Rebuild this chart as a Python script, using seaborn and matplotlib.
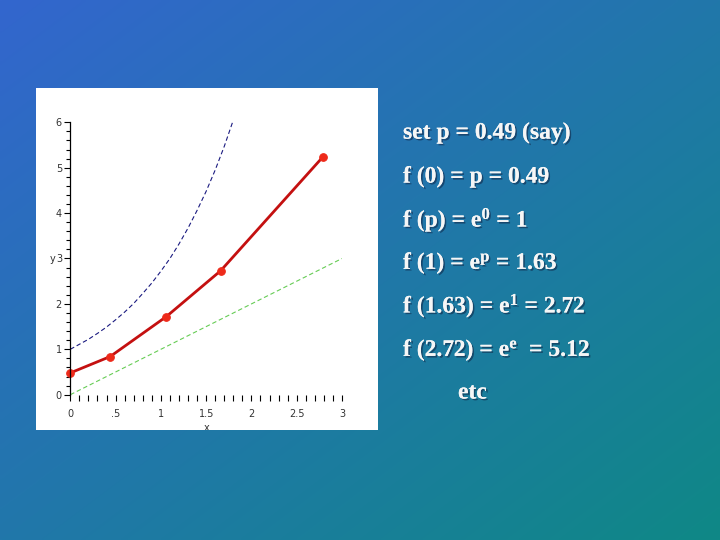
import numpy as np
import pandas as pd
import matplotlib
matplotlib.use("Agg")
import matplotlib.pyplot as plt
import matplotlib.patheffects as pe
from matplotlib.ticker import MultipleLocator, FixedLocator, FixedFormatter
import seaborn as sns

# ---- data ----
iter_x = [0.0, 0.44, 1.06, 1.66, 2.79]
iter_y = [0.48, 0.84, 1.72, 2.73, 5.24]

exp_x = [0.0, 0.1, 0.2, 0.3, 0.4, 0.5, 0.6, 0.7, 0.8, 0.9, 1.0,
         1.1, 1.2, 1.3, 1.4, 1.5, 1.6, 1.7, 1.8]
exp_y = [1.00, 1.11, 1.22, 1.35, 1.49, 1.65, 1.82, 2.01, 2.23, 2.46, 2.72,
         3.00, 3.32, 3.67, 4.06, 4.48, 4.95, 5.47, 6.05]

diag_x = [0.0, 3.0]
diag_y = [0.0, 3.0]

x_tick_vals = [0, 0.5, 1, 1.5, 2, 2.5, 3]
x_tick_labels = ["0", ".5", "1", "1.5", "2", "2.5", "3"]
y_tick_vals = [0, 1, 2, 3, 4, 5, 6]
y_tick_labels = ["0", "1", "2", "3", "4", "5", "6"]

text_lines = [
    r"set p = 0.49 (say)",
    r"f (0) = p = 0.49",
    r"f (p) = e$^{\mathrm{0}}$ = 1",
    r"f (1) = e$^{\mathrm{p}}$ = 1.63",
    r"f (1.63) = e$^{\mathrm{1}}$ = 2.72",
    r"f (2.72) = e$^{\mathrm{e}}$  = 5.12",
]
etc_text = "etc"

# ---- style ----
sns.set_theme(style="ticks")
plt.rcParams["font.family"] = ["DejaVu Sans"]
plt.rcParams["mathtext.fontset"] = "custom"
plt.rcParams["mathtext.rm"] = "Liberation Serif:bold"
plt.rcParams["mathtext.it"] = "Liberation Serif:bold"
plt.rcParams["mathtext.bf"] = "Liberation Serif:bold"

W, H = 720, 540
fig = plt.figure(figsize=(7.2, 5.4), dpi=100)

# background gradient (top-left blue -> bottom-right teal)
bg = fig.add_axes([0, 0, 1, 1], zorder=0)
n = 200
u = np.linspace(0, 1, n)
xx, yy = np.meshgrid(u, u)
t = (xx + yy) / 2.0
c0 = np.array([51, 102, 206]) / 255.0
c1 = np.array([15, 136, 134]) / 255.0
img = c0[None, None, :] * (1 - t[..., None]) + c1[None, None, :] * t[..., None]
bg.imshow(img, extent=[0, 1, 0, 1], aspect="auto", origin="upper", interpolation="bilinear")
bg.set_axis_off()

def fx(px):
    return px / W

def fy(py):
    return 1 - py / H

# white panel
panel = fig.add_axes([fx(36), fy(430), 342 / W, 342 / H], zorder=1)
panel.set_facecolor("white")
panel.set_xticks([])
panel.set_yticks([])
for s in panel.spines.values():
    s.set_visible(False)

# main plot axes
ax = fig.add_axes([fx(70.3), fy(394.7), 271.7 / W, 272.4 / H], zorder=2)
ax.patch.set_alpha(0)

df_exp = pd.DataFrame({"x": exp_x, "y": exp_y})
df_diag = pd.DataFrame({"x": diag_x, "y": diag_y})
df_iter = pd.DataFrame({"x": iter_x, "y": iter_y})

sns.lineplot(data=df_exp, x="x", y="y", ax=ax, color="#1a1a80", lw=0.8,
             linestyle=(0, (4, 2.5)), sort=False)
sns.lineplot(data=df_diag, x="x", y="y", ax=ax, color="#66cc55", lw=0.8,
             linestyle=(0, (4, 2.5)), sort=False)
sns.lineplot(data=df_iter, x="x", y="y", ax=ax, color="#c41010", lw=2.0,
             marker="o", markersize=5.5, markerfacecolor="#ee2a1a",
             markeredgecolor="#ee2a1a", sort=False, clip_on=False)

ax.set_xlim(0, 3)
ax.set_ylim(0, 6)
ax.set_xlabel("")
ax.set_ylabel("")
for side in ("top", "right", "bottom"):
    ax.spines[side].set_visible(False)
ax.spines["left"].set_color("black")
ax.spines["left"].set_linewidth(0.9)

ax.xaxis.set_major_locator(FixedLocator(x_tick_vals))
ax.xaxis.set_major_formatter(FixedFormatter(x_tick_labels))
ax.xaxis.set_minor_locator(MultipleLocator(0.1))
ax.yaxis.set_major_locator(FixedLocator(y_tick_vals))
ax.yaxis.set_major_formatter(FixedFormatter(y_tick_labels))
ax.yaxis.set_minor_locator(MultipleLocator(0.2))

ax.tick_params(axis="both", which="both", direction="out", colors="black",
               width=0.8, labelsize=7, labelcolor="#333333")
ax.tick_params(axis="x", which="both", length=4, pad=6, bottom=True)
ax.tick_params(axis="y", which="major", length=4, pad=2, left=True)
ax.tick_params(axis="y", which="minor", length=3, left=True)

# axis titles
ax.annotate("y", xy=(0, 3), xycoords="data", xytext=(-13, 0),
            textcoords="offset points", ha="center", va="center",
            fontsize=7, color="#333333")
xl = fig.text(fx(207), fy(428), "x", ha="center", va="center",
              fontsize=7, color="#333333", zorder=3)
xl.set_clip_path(panel.patch)
xl.set_clip_on(True)

# right-side text
shadow = [pe.withSimplePatchShadow(offset=(1.2, -1.2), shadow_rgbFace="#102040", alpha=0.55),
          pe.Normal()]
line_y = [133, 177, 220, 263, 306, 350]
for txt, py in zip(text_lines, line_y):
    fig.text(fx(403), fy(py), txt, ha="left", va="center", color="#f6f6f6",
             fontsize=17, family="Liberation Serif", fontweight="bold",
             path_effects=shadow, zorder=5)
fig.text(fx(458), fy(393), etc_text, ha="left", va="center", color="#f6f6f6",
         fontsize=17, family="Liberation Serif", fontweight="bold",
         path_effects=shadow, zorder=5)

fig.savefig("out.png", dpi=100)
